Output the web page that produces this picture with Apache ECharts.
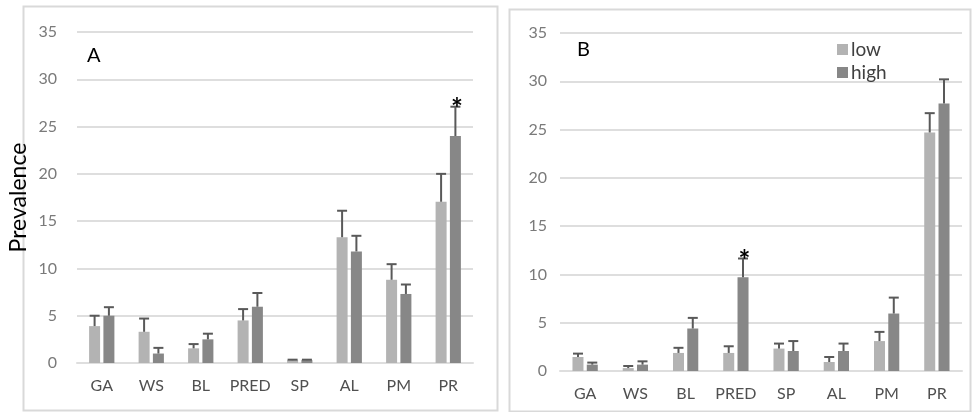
<!DOCTYPE html>
<html>
<head>
<meta charset="utf-8">
<script src="https://cdn.jsdelivr.net/npm/echarts@6/dist/echarts.min.js"></script>
<style>
  html, body { margin: 0; padding: 0; background: #fff; }
  #main { width: 974px; height: 412px; }
</style>
</head>
<body>
<div id="main"></div>
<script>
var categories = ['GA', 'WS', 'BL', 'PRED', 'SP', 'AL', 'PM', 'PR'];

// panel A
var lowA = [3.9, 3.3, 1.55, 4.5, 0.3, 13.3, 8.8, 17.05];
var lowErrA = [5.0, 4.7, 2.0, 5.7, 0.35, 16.1, 10.45, 20.0];
var highA = [5.0, 1.0, 2.5, 5.95, 0.3, 11.8, 7.3, 24.0];
var highErrA = [5.9, 1.6, 3.1, 7.4, 0.35, 13.45, 8.3, 27.1];
var sigA = ['PR'];

// panel B
var lowB = [1.45, 0.3, 1.87, 1.87, 2.32, 0.93, 3.1, 24.7];
var lowErrB = [1.8, 0.52, 2.4, 2.56, 2.84, 1.45, 4.05, 26.7];
var highB = [0.66, 0.66, 4.4, 9.7, 2.07, 2.07, 5.95, 27.7];
var highErrB = [0.87, 1.0, 5.5, 11.65, 3.1, 2.84, 7.6, 30.2];
var sigB = ['PRED'];

var yTicks = [0, 35, 5]; // min, max, step

var lightColor = '#b3b3b3';
var darkColor = '#878787';
var errColor = '#595959';
var gridColor = '#dedede';
var font = 'Lato, "Open Sans", sans-serif';

var myChart = echarts.init(document.getElementById('main'));

function errData(vals, errs, sig) {
  return vals.map(function (v, i) {
    return [i, v, errs[i], sig && sig.indexOf(categories[i]) >= 0 ? 1 : 0];
  });
}

function errSeries(idx, vals, errs, offset, sig) {
  return {
    type: 'custom',
    xAxisIndex: idx,
    yAxisIndex: idx,
    z: 5,
    silent: true,
    encode: { x: 0, y: [1, 2] },
    data: errData(vals, errs, sig),
    renderItem: function (params, api) {
      var p0 = api.coord([api.value(0), api.value(1)]);
      var p1 = api.coord([api.value(0), api.value(2)]);
      var x = p0[0] + offset;
      var style = { stroke: errColor, lineWidth: 2 };
      var children = [
        { type: 'line', shape: { x1: x, y1: p0[1], x2: x, y2: p1[1] }, style: style },
        { type: 'line', shape: { x1: x - 5, y1: p1[1], x2: x + 5, y2: p1[1] }, style: style }
      ];
      if (api.value(3)) {
        // significance marker
        children.push({
          type: 'text',
          style: {
            text: '*', x: x + 1.5, y: p1[1] + 2,
            fill: '#000', font: 'bold 28px ' + font,
            align: 'center', verticalAlign: 'middle'
          }
        });
      }
      return { type: 'group', children: children };
    }
  };
}

function xAxis(idx) {
  return {
    type: 'category',
    gridIndex: idx,
    data: categories,
    axisTick: { show: false },
    axisLine: { lineStyle: { color: gridColor, width: 2 } },
    axisLabel: { color: '#505050', fontSize: 16, fontFamily: font, margin: 15, interval: 0 }
  };
}

function yAxis(idx, margin, name) {
  return {
    type: 'value',
    gridIndex: idx,
    min: yTicks[0],
    max: yTicks[1],
    interval: yTicks[2],
    name: name,
    nameLocation: 'middle',
    nameGap: 47,
    nameTextStyle: { color: '#000', fontSize: 23, fontFamily: font },
    axisLine: { show: false },
    axisTick: { show: false },
    splitLine: { lineStyle: { color: gridColor, width: 2 } },
    axisLabel: { color: '#7a7a7a', fontSize: 16, fontFamily: font, margin: margin }
  };
}

var barCommon = { type: 'bar', barWidth: 11, barGap: '30%' };

var option = {
  animation: false,
  textStyle: { fontFamily: font },
  legend: {
    orient: 'vertical',
    left: 832,
    top: 35,
    itemWidth: 11,
    itemHeight: 11,
    itemGap: 4,
    icon: 'rect',
    data: ['low', 'high'],
    textStyle: { color: '#404040', fontSize: 19, fontFamily: font, padding: [0, 0, 0, -2] }
  },
  grid: [
    { left: 77, right: 501, top: 32, bottom: 49 },
    { left: 560, right: 12, top: 33, bottom: 41 }
  ],
  xAxis: [xAxis(0), xAxis(1)],
  yAxis: [yAxis(0, 20, 'Prevalence'), yAxis(1, 13, '')],
  graphic: [
    { type: 'rect', shape: { x: 23.5, y: 6.5, width: 474, height: 404 }, style: { fill: null, stroke: '#d9d9d9', lineWidth: 2 }, silent: true },
    { type: 'rect', shape: { x: 509.5, y: 9.5, width: 461, height: 402 }, style: { fill: null, stroke: '#d9d9d9', lineWidth: 2 }, silent: true },
    { type: 'text', left: 87, top: 46, style: { text: 'A', fill: '#000', font: '20px ' + font } },
    { type: 'text', left: 577, top: 40, style: { text: 'B', fill: '#000', font: '20px ' + font } }
  ],
  series: [
    Object.assign({ name: 'low', xAxisIndex: 0, yAxisIndex: 0, data: lowA, itemStyle: { color: lightColor } }, barCommon),
    Object.assign({ name: 'high', xAxisIndex: 0, yAxisIndex: 0, data: highA, itemStyle: { color: darkColor } }, barCommon),
    Object.assign({ name: 'low', xAxisIndex: 1, yAxisIndex: 1, data: lowB, itemStyle: { color: lightColor } }, barCommon),
    Object.assign({ name: 'high', xAxisIndex: 1, yAxisIndex: 1, data: highB, itemStyle: { color: darkColor } }, barCommon),
    errSeries(0, lowA, lowErrA, -7.15),
    errSeries(0, highA, highErrA, 7.15, sigA),
    errSeries(1, lowB, lowErrB, -7.15),
    errSeries(1, highB, highErrB, 7.15, sigB)
  ]
};

myChart.setOption(option);
</script>
</body>
</html>
